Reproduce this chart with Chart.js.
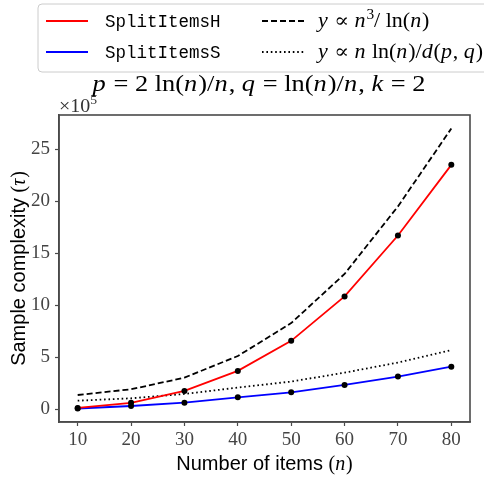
<!DOCTYPE html>
<html><head><meta charset="utf-8">
<script src="https://cdn.jsdelivr.net/npm/chart.js@4/dist/chart.umd.min.js"></script>
<style>html,body{margin:0;padding:0;background:#fff}#wrap{width:484px;height:477px;position:relative}</style>
</head><body><div id="wrap"><canvas id="c" width="484" height="477"></canvas></div>
<script>
// Data (values in units of 10^5)
const nItems = [10, 20, 30, 40, 50, 60, 70, 80];
const splitItemsH = [0.10, 0.60, 1.74, 3.67, 6.56, 10.84, 16.7, 23.5];
const splitItemsS = [0.05, 0.29, 0.61, 1.13, 1.61, 2.32, 3.12, 4.08];
const cubicOverLog = [1.35, 1.90, 3.02, 5.10, 8.27, 13.0, 19.5, 27.0];
const nLogOverD = [0.80, 1.03, 1.45, 2.06, 2.64, 3.50, 4.47, 5.67];
const xTicks = [10, 20, 30, 40, 50, 60, 70, 80];
const yTicks = [0, 5, 10, 15, 20, 25];

const SERIF = '"Liberation Serif", "DejaVu Serif", serif';
const SANS = '"Liberation Sans", Arial, sans-serif';
const MONO = '"Liberation Mono", "DejaVu Sans Mono", monospace';

const pts = arr => nItems.map((n, i) => ({x: n, y: arr[i]}));

function drawMixed(ctx, segs, x, y, size, align, hs) {
  hs = hs || 1;
  const fontOf = s => {
    if (s.f === 'i') return `italic ${size}px ${SERIF}`;
    if (s.f === 'sup') return `${Math.round(size * 0.7)}px ${SERIF}`;
    if (s.f === 'sans') return `${size}px ${SANS}`;
    return `${size}px ${SERIF}`;
  };
  const adv = s => { ctx.font = fontOf(s); return ctx.measureText(s.t).width + (s.f === 'i' ? size * 0.04 : 0); };
  let w = 0;
  for (const s of segs) w += adv(s);
  ctx.save();
  ctx.translate(x, y);
  ctx.scale(hs, 1);
  let cx = align === 'center' ? -w / 2 : 0;
  ctx.textBaseline = 'alphabetic';
  ctx.textAlign = 'left';
  for (const s of segs) {
    const a = adv(s);
    ctx.font = fontOf(s);
    const dy = s.f === 'sup' ? -size * 0.42 : 0;
    ctx.fillText(s.t, cx, dy);
    cx += a;
  }
  ctx.restore();
  return w * hs;
}
const I = t => ({t, f: 'i'}), R = t => ({t, f: 'r'}), SUP = t => ({t, f: 'sup'}), SN = t => ({t, f: 'sans'});

const decor = {
  id: 'decor',
  afterDraw(chart) {
    const ctx = chart.ctx, a = chart.chartArea;
    ctx.save();
    // frame
    ctx.strokeStyle = '#4a4a4a';
    ctx.lineWidth = 1.6;
    ctx.strokeRect(a.left, a.top, a.right - a.left, a.bottom - a.top);
    ctx.fillStyle = '#000';
    // title
    drawMixed(ctx, [I('p'), R(' = 2 ln('), I('n'), R(')/'), I('n'), R(', '), I('q'), R(' = ln('), I('n'), R(')/'), I('n'), R(', '), I('k'), R(' = 2')],
      259, 91, 24, 'center', 1.1);
    // offset text
    ctx.fillStyle = '#333';
    drawMixed(ctx, [R('×10'), SUP('5')], a.left, 112, 19, 'left', 1.05);
    ctx.fillStyle = '#000';
    // x label
    drawMixed(ctx, [SN('Number of items '), R('('), I('n'), R(')')], (a.left + a.right) / 2, 470, 20, 'center');
    // y label
    ctx.save();
    ctx.translate(25, (a.top + a.bottom) / 2);
    ctx.rotate(-Math.PI / 2);
    drawMixed(ctx, [SN('Sample complexity '), R('('), I('τ'), R(')')], 0, 0, 20, 'center');
    ctx.restore();
    // legend
    const bx = 38, by = 4, bw = 460, bh = 68, r = 4;
    ctx.beginPath();
    ctx.moveTo(bx + r, by); ctx.lineTo(bx + bw - r, by); ctx.arcTo(bx + bw, by, bx + bw, by + r, r);
    ctx.lineTo(bx + bw, by + bh - r); ctx.arcTo(bx + bw, by + bh, bx + bw - r, by + bh, r);
    ctx.lineTo(bx + r, by + bh); ctx.arcTo(bx, by + bh, bx, by + bh - r, r);
    ctx.lineTo(bx, by + r); ctx.arcTo(bx, by, bx + r, by, r); ctx.closePath();
    ctx.fillStyle = 'rgba(255,255,255,0.85)'; ctx.fill();
    ctx.strokeStyle = '#cccccc'; ctx.lineWidth = 1; ctx.stroke();
    const rows = [21, 52];
    const items = [
      {col: 0, row: 0, color: 'red', dash: [], label: [{t: 'SplitItemsH', mono: true}]},
      {col: 0, row: 1, color: 'blue', dash: [], label: [{t: 'SplitItemsS', mono: true}]},
      {col: 1, row: 0, color: 'black', dash: [6, 3], label: [I('y'), R(' ∝ '), I('n'), SUP('3'), R('/ ln('), I('n'), R(')')]},
      {col: 1, row: 1, color: 'black', dash: [1.6, 2.8], label: [I('y'), R(' ∝ '), I('n'), R(' ln('), I('n'), R(')/'), I('d'), R('('), I('p'), R(', '), I('q'), R(')')]}
    ];
    const colX = [46, 262];
    for (const it of items) {
      const x0 = colX[it.col], y0 = rows[it.row];
      ctx.beginPath();
      ctx.setLineDash(it.dash);
      ctx.strokeStyle = it.color; ctx.lineWidth = 1.8;
      ctx.moveTo(x0, y0); ctx.lineTo(x0 + 42, y0); ctx.stroke();
      ctx.setLineDash([]);
      ctx.fillStyle = '#000';
      if (it.label[0].mono) {
        ctx.font = `17.5px ${MONO}`; ctx.textBaseline = 'alphabetic'; ctx.textAlign = 'left';
        ctx.fillText(it.label[0].t, x0 + 59, y0 + 6);
      } else {
        drawMixed(ctx, it.label, x0 + 56, y0 + 6, 20, 'left', 1.1);
      }
    }
    ctx.restore();
  }
};

const tickFont = {family: SERIF, size: 19};
new Chart(document.getElementById('c'), {
  type: 'line',
  data: {
    datasets: [
      {label: 'SplitItemsH', data: pts(splitItemsH), borderColor: 'red', borderWidth: 1.8, pointRadius: 3, pointBackgroundColor: '#000', pointBorderColor: '#000', pointBorderWidth: 0, tension: 0, order: 1},
      {label: 'SplitItemsS', data: pts(splitItemsS), borderColor: 'blue', borderWidth: 1.8, pointRadius: 3, pointBackgroundColor: '#000', pointBorderColor: '#000', pointBorderWidth: 0, tension: 0, order: 2},
      {label: 'n3/ln n', data: pts(cubicOverLog), borderColor: '#000', borderWidth: 1.8, borderDash: [6, 3], pointRadius: 0, tension: 0, order: 3},
      {label: 'n ln n / d', data: pts(nLogOverD), borderColor: '#000', borderWidth: 1.8, borderDash: [1.6, 2.8], pointRadius: 0, tension: 0, order: 4}
    ]
  },
  options: {
    responsive: false,
    animation: false,
    devicePixelRatio: 1,
    layout: {padding: {top: 115, right: 14, left: 0, bottom: 0}},
    plugins: {legend: {display: false}, tooltip: {enabled: false}, title: {display: false}},
    scales: {
      x: {
        type: 'linear', min: 6.5, max: 83.5,
        afterBuildTicks: s => { s.ticks = xTicks.map(v => ({value: v})); },
        afterFit: s => { s.height = 55; },
        ticks: {font: tickFont, color: '#444', padding: 3, maxRotation: 0},
        grid: {drawOnChartArea: false, drawTicks: true, tickLength: 4, tickColor: '#4a4a4a', tickWidth: 1.2},
        border: {display: true, color: '#4a4a4a', width: 1.6}
      },
      y: {
        type: 'linear', min: -1.25, max: 28.3,
        afterBuildTicks: s => { s.ticks = yTicks.map(v => ({value: v})); },
        afterFit: s => { s.width = 59; },
        ticks: {font: tickFont, color: '#444', padding: 5},
        grid: {drawOnChartArea: false, drawTicks: true, tickLength: 4, tickColor: '#4a4a4a', tickWidth: 1.2},
        border: {display: true, color: '#4a4a4a', width: 1.6}
      }
    }
  },
  plugins: [decor]
});
</script>
</body></html>
